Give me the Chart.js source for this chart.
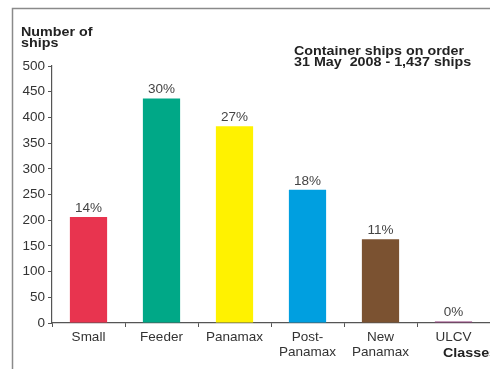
<!DOCTYPE html>
<html>
<head>
<meta charset="utf-8">
<script src="https://cdn.jsdelivr.net/npm/chart.js"></script>
<style>
  html, body { margin: 0; padding: 0; background: #fff; }
  #wrap { width: 490px; height: 369px; position: relative; }
</style>
</head>
<body>
<div id="wrap"><canvas id="chart" width="490" height="369"></canvas></div>
<script>
// ship classes and number of container ships on order
const categories = ['Small', 'Feeder', 'Panamax', ['Post-', 'Panamax'], ['New', 'Panamax'], 'ULCV'];
const ships = [206, 437, 383, 259, 163, 3];
const shares = ['14%', '30%', '27%', '18%', '11%', '0%'];
const barColors = ['#e8344f', '#00a887', '#fff200', '#009fe0', '#7b5231', '#8e3a78'];
const yTicks = [0, 50, 100, 150, 200, 250, 300, 350, 400, 450, 500];

const FONT = '"Liberation Sans", Arial, sans-serif';
const AXIS = '#555';

// bold text, slightly widened
function wideText(c, text, x, y, sx) {
  c.save();
  c.translate(x, y);
  c.scale(sx, 1);
  c.fillText(text, 0, 0);
  c.restore();
}

// frame, titles and the share labels over each bar
const decorations = {
  id: 'decorations',
  afterDraw(chart) {
    const c = chart.ctx;
    c.save();

    c.strokeStyle = '#8a8a8a';
    c.lineWidth = 1.5;
    c.beginPath();
    c.moveTo(12.5, 369);
    c.lineTo(12.5, 8.5);
    c.lineTo(490, 8.5);
    c.stroke();

    c.fillStyle = '#222';
    c.textAlign = 'left';
    c.textBaseline = 'alphabetic';
    c.font = 'bold 13px ' + FONT;
    wideText(c, 'Number of', 21, 36, 1.1);
    wideText(c, 'ships', 21, 47, 1.1);

    wideText(c, 'Container ships on order', 294, 54.5, 1.1);
    wideText(c, '31 May  2008 - 1,437 ships', 294, 66, 1.1);

    wideText(c, 'Classes', 443, 357, 1.1);

    c.font = '13.5px ' + FONT;
    c.fillStyle = '#444';
    c.textAlign = 'center';
    c.textBaseline = 'middle';
    chart.getDatasetMeta(0).data.forEach((bar, i) => {
      c.fillText(shares[i], bar.x, bar.y - 9);
    });

    c.restore();
  }
};

new Chart(document.getElementById('chart'), {
  type: 'bar',
  data: {
    labels: categories,
    datasets: [{
      data: ships,
      backgroundColor: barColors,
      borderWidth: 0,
      barPercentage: 0.51,
      categoryPercentage: 1
    }]
  },
  options: {
    responsive: false,
    animation: false,
    layout: { padding: { top: 66, left: 0, right: 0, bottom: 0 } },
    plugins: {
      legend: { display: false },
      tooltip: { enabled: false }
    },
    scales: {
      x: {
        afterFit: s => { s.height = 46; },
        grid: {
          drawOnChartArea: false,
          tickLength: 4,
          color: AXIS,
          offset: true
        },
        border: { color: AXIS, width: 1.2 },
        ticks: {
          color: '#333',
          padding: 3,
          maxRotation: 0,
          autoSkip: false,
          font: { family: FONT, size: 13.5, lineHeight: 1.1 }
        }
      },
      y: {
        min: 0,
        max: 500,
        afterFit: s => { s.width = 52; },
        afterBuildTicks: s => { s.ticks = yTicks.map(v => ({ value: v })); },
        grid: {
          drawOnChartArea: false,
          tickLength: 4,
          color: AXIS
        },
        border: { color: AXIS, width: 1.2 },
        ticks: {
          color: '#333',
          padding: 3,
          font: { family: FONT, size: 13.5 }
        }
      }
    }
  },
  plugins: [decorations]
});
</script>
</body>
</html>
